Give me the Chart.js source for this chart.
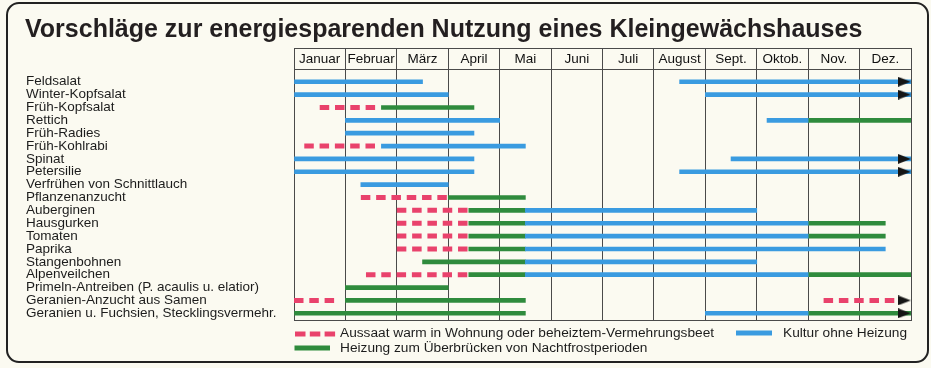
<!DOCTYPE html>
<html>
<head>
<meta charset="utf-8">
<script src="https://cdn.jsdelivr.net/npm/chart.js@4.4.1/dist/chart.umd.min.js"></script>
<style>
  html, body { margin: 0; padding: 0; background: #fbfaf1; }
  #wrap { width: 931px; height: 368px; position: relative; }
</style>
</head>
<body>
<div id="wrap"><canvas id="gh"></canvas></div>
<script>
const title = 'Vorschläge zur energiesparenden Nutzung eines Kleingewächshauses';
const months = ['Januar','Februar','März','April','Mai','Juni','Juli','August','Sept.','Oktob.','Nov.','Dez.'];
const crops = [
  'Feldsalat', 'Winter-Kopfsalat', 'Früh-Kopfsalat', 'Rettich', 'Früh-Radies',
  'Früh-Kohlrabi', 'Spinat', 'Petersilie', 'Verfrühen von Schnittlauch', 'Pflanzenanzucht',
  'Auberginen', 'Hausgurken', 'Tomaten', 'Paprika', 'Stangenbohnen', 'Alpenveilchen',
  'Primeln-Antreiben (P. acaulis u. elatior)', 'Geranien-Anzucht aus Samen',
  'Geranien u. Fuchsien, Stecklingsvermehr.'
];

// [row, from, to] in months: 0 = start of January, 12 = end of December
const sowingWarm = [
  [2,0.5,1.6], [5,0.2,1.6], [9,1.3,3.0], [10,2.0,3.4], [11,2.0,3.4], [12,2.0,3.4],
  [13,2.0,3.4], [15,1.4,3.4], [17,0,0.8], [17,10.3,11.7]
];
const noHeating = [
  [0,0,2.5], [0,7.5,12], [1,0,3], [1,8,12], [3,1,4], [3,9.2,10], [4,1,3.5], [5,1.7,4.5],
  [6,0,3.5], [6,8.5,12], [7,0,3.5], [7,7.5,12], [8,1.3,3], [10,4.5,9], [11,4.5,10],
  [12,4.5,10], [13,4.5,11.5], [14,4.5,9], [15,4.5,10], [18,8,10]
];
const frostHeating = [
  [2,1.7,3.5], [3,10,12], [9,3,4.5], [10,3.4,4.5], [11,3.4,4.5], [11,10,11.5],
  [12,3.4,4.5], [12,10,11.5], [13,3.4,4.5], [14,2.5,4.5], [15,3.4,4.5], [15,10,12],
  [16,1,3], [17,1,4.5], [18,0,4.5], [18,10,12]
];
const arrowRows = [0, 1, 6, 7, 17, 18];
const arrowAt = 11.87;

const legendLabels = [
  'Aussaat warm in Wohnung oder beheiztem-Vermehrungsbeet',
  'Kultur ohne Heizung',
  'Heizung zum Überbrücken von Nachtfrostperioden'
];

const RED = '#e9426c', BLUE = '#3a9be0', GREEN = '#2f8b3d', INK = '#1c1c1c', GRID = '#4a4a4a';

Chart.defaults.font.family = '"Liberation Sans", Arial, sans-serif';

// little black arrow head used as point style
const arrowImg = document.createElement('canvas');
arrowImg.width = 13; arrowImg.height = 10;
const actx = arrowImg.getContext('2d');
actx.fillStyle = '#151515';
actx.beginPath(); actx.moveTo(0, 0); actx.lineTo(13, 5); actx.lineTo(0, 10); actx.closePath(); actx.fill();

const toBars = segs => segs.map(([r, a, b]) => ({ x: [a, b], y: r }));
const toDashes = segs => segs.flatMap(([r, a, b]) => [{ x: a, y: r }, { x: b, y: r }, { x: null, y: null }]);

const decor = {
  id: 'decor',
  beforeDraw(chart) {
    const ctx = chart.ctx;
    ctx.save();
    ctx.fillStyle = '#fbfaf1';
    ctx.fillRect(0, 0, chart.width, chart.height);
    // rounded frame
    const x = 7, y = 3, w = 921, h = 359, r = 12;
    ctx.beginPath();
    ctx.moveTo(x + r, y);
    ctx.arcTo(x + w, y, x + w, y + h, r);
    ctx.arcTo(x + w, y + h, x, y + h, r);
    ctx.arcTo(x, y + h, x, y, r);
    ctx.arcTo(x, y, x + w, y, r);
    ctx.closePath();
    ctx.lineWidth = 2;
    ctx.strokeStyle = '#222';
    ctx.stroke();
    ctx.fillStyle = '#231f20';
    ctx.font = 'bold 25px "Liberation Sans", Arial, sans-serif';
    ctx.textBaseline = 'alphabetic';
    ctx.fillText(title, 25, 37, 842);
    ctx.restore();
  },
  afterDraw(chart) {
    const ctx = chart.ctx;
    const xs = chart.scales.x, area = chart.chartArea;
    ctx.save();
    ctx.strokeStyle = GRID;
    ctx.lineWidth = 1;
    ctx.beginPath();
    ctx.moveTo(xs.left, Math.round(xs.top) + 0.5); ctx.lineTo(xs.right, Math.round(xs.top) + 0.5);
    ctx.moveTo(xs.left, Math.round(area.bottom) - 0.5); ctx.lineTo(xs.right, Math.round(area.bottom) - 0.5);
    ctx.stroke();

    // legend
    const ds = chart.data.datasets;
    const key = (color, dash, x1, x2, yy) => {
      ctx.beginPath();
      ctx.setLineDash(dash);
      ctx.strokeStyle = color;
      ctx.lineWidth = 5;
      ctx.moveTo(x1, yy); ctx.lineTo(x2, yy);
      ctx.stroke();
      ctx.setLineDash([]);
    };
    ctx.font = '13.7px "Liberation Sans", Arial, sans-serif';
    ctx.fillStyle = INK;
    ctx.textBaseline = 'middle';
    key(ds[1].borderColor, [10.5, 4.3], 295, 336, 334);
    ctx.fillText(ds[1].label, 340, 333.5);
    key(ds[2].backgroundColor, [], 736, 772, 333);
    ctx.fillText(ds[2].label, 783, 333.5);
    key(ds[3].backgroundColor, [], 294.5, 330, 348);
    ctx.fillText(ds[3].label, 340, 348);
    ctx.restore();
  }
};

new Chart(document.getElementById('gh'), {
  type: 'bar',
  data: {
    datasets: [
      {
        type: 'scatter', label: 'weiter', data: arrowRows.map(r => ({ x: arrowAt, y: r })),
        pointStyle: arrowImg, pointRadius: 6, order: 0
      },
      {
        type: 'line', label: legendLabels[0], data: toDashes(sowingWarm),
        borderColor: RED, borderWidth: 5, borderDash: [9.5, 5.8], borderCapStyle: 'butt',
        pointRadius: 0, spanGaps: false, order: 1
      },
      {
        label: legendLabels[1], data: toBars(noHeating), backgroundColor: BLUE,
        barThickness: 4, grouped: false, borderWidth: 0, order: 2
      },
      {
        label: legendLabels[2], data: toBars(frostHeating), backgroundColor: GREEN,
        barThickness: 4, grouped: false, borderWidth: 0, order: 2
      }
    ]
  },
  options: {
    indexAxis: 'y',
    responsive: true,
    maintainAspectRatio: false,
    animation: false,
    events: [],
    layout: { padding: { top: 48, left: 26, right: 20, bottom: 47 } },
    plugins: { legend: { display: false }, tooltip: { enabled: false }, title: { display: false } },
    scales: {
      x: {
        type: 'linear', position: 'top', min: 0, max: 12, offset: false,
        grid: { color: GRID, lineWidth: 1, tickLength: 21, drawTicks: true, offset: false },
        border: { color: GRID, width: 1 },
        afterBuildTicks: s => { s.ticks = Array.from({ length: months.length + 1 }, (_, i) => ({ value: i })); },
        ticks: {
          autoSkip: false, maxRotation: 0, minRotation: 0, labelOffset: 25.7, padding: -19.5,
          color: '#111', font: { size: 13.5 },
          callback: v => months[v] ?? ''
        },
        afterFit: s => { s.height = 21; }
      },
      y: {
        type: 'linear', reverse: true, min: -0.99, max: 18.6, offset: false,
        grid: { display: false, drawTicks: false }, border: { display: false },
        afterBuildTicks: s => { s.ticks = crops.map((_, i) => ({ value: i })); },
        ticks: {
          autoSkip: false, crossAlign: 'far', color: INK, font: { size: 13.5 },
          callback: v => crops[v]
        },
        afterFit: s => { s.width = 268; }
      }
    }
  },
  plugins: [decor]
});
</script>
</body>
</html>
